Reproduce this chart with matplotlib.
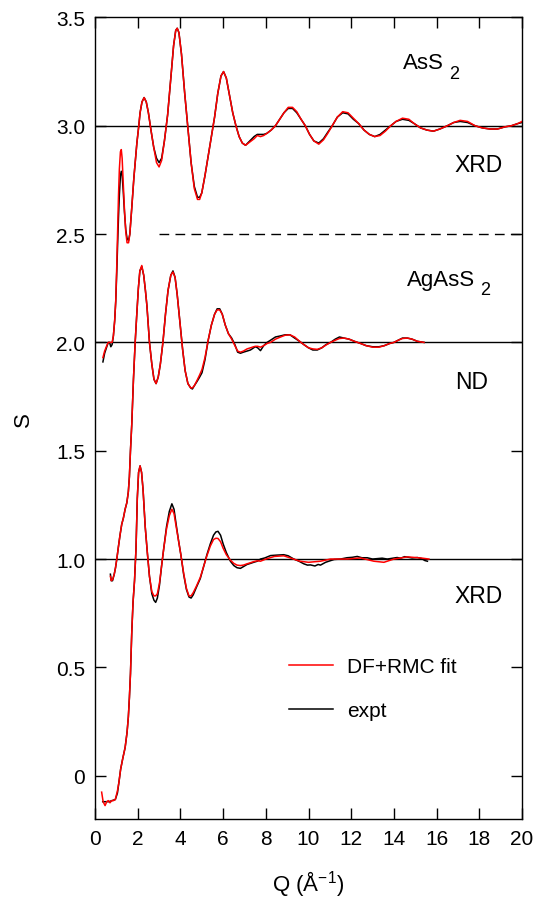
import matplotlib
matplotlib.use("Agg")
import matplotlib.pyplot as plt

plt.rcParams['font.family'] = ['Liberation Sans', 'DejaVu Sans']
plt.rcParams['mathtext.fontset'] = 'custom'
plt.rcParams['mathtext.rm'] = 'Liberation Sans'
plt.rcParams['mathtext.it'] = 'Liberation Sans:italic'

# AsS2, XRD (shifted up by 2)
q_ass2 = [0.37, 0.45, 0.55, 0.62, 0.68, 0.74, 0.80, 0.86, 0.92, 0.97,
          1.02, 1.06, 1.10, 1.14, 1.19, 1.23, 1.27, 1.32, 1.38, 1.44,
          1.50, 1.57, 1.63, 1.72, 1.82, 1.96, 2.05, 2.11, 2.20, 2.30,
          2.40, 2.50, 2.62, 2.75, 2.88, 3.00, 3.12, 3.25, 3.40, 3.55,
          3.68, 3.78, 3.85, 3.93, 4.05, 4.20, 4.35, 4.50, 4.65, 4.80,
          4.90, 5.00, 5.15, 5.30, 5.45, 5.60, 5.75, 5.90, 6.02, 6.15,
          6.30, 6.45, 6.60, 6.75, 6.90, 7.05, 7.25, 7.45, 7.60, 7.75,
          7.90, 8.05, 8.25, 8.45, 8.65, 8.85, 9.05, 9.25, 9.45, 9.65,
          9.85, 10.05, 10.25, 10.48, 10.70, 10.90, 11.11, 11.35, 11.60, 11.85,
          12.10, 12.35, 12.60, 12.85, 13.10, 13.35, 13.60, 13.85, 14.10, 14.40,
          14.70, 14.95, 15.25, 15.55, 15.85, 16.15, 16.50, 16.80, 17.10, 17.45,
          17.80, 18.15, 18.50, 18.85, 19.20, 19.50, 19.80, 20.00]
s_ass2_expt = [1.91, 1.95, 1.98, 2.00, 2.00, 1.98, 1.99, 2.03, 2.10, 2.19,
               2.33, 2.46, 2.58, 2.68, 2.77, 2.79, 2.77, 2.70, 2.60, 2.52,
               2.48, 2.47, 2.50, 2.62, 2.76, 2.92, 3.00, 3.06, 3.11, 3.13,
               3.11, 3.06, 2.98, 2.90, 2.85, 2.83, 2.85, 2.93, 3.05, 3.22,
               3.37, 3.44, 3.45, 3.43, 3.33, 3.15, 2.99, 2.83, 2.72, 2.67,
               2.67, 2.69, 2.77, 2.86, 2.95, 3.04, 3.15, 3.23, 3.25, 3.22,
               3.14, 3.06, 3.00, 2.95, 2.92, 2.91, 2.93, 2.95, 2.96, 2.96,
               2.96, 2.965, 2.98, 3.00, 3.03, 3.06, 3.08, 3.08, 3.06, 3.03,
               3.00, 2.96, 2.93, 2.92, 2.94, 2.97, 3.00, 3.04, 3.06, 3.055,
               3.03, 3.01, 2.98, 2.96, 2.95, 2.96, 2.98, 3.00, 3.02, 3.03,
               3.025, 3.01, 2.99, 2.98, 2.975, 2.985, 3.00, 3.015, 3.02, 3.015,
               3.00, 2.99, 2.985, 2.985, 2.995, 3.00, 3.01, 3.015]
s_ass2_fit = [1.93, 1.96, 1.985, 2.00, 2.00, 2.00, 2.00, 2.03, 2.10, 2.19,
              2.36, 2.52, 2.68, 2.80, 2.88, 2.89, 2.85, 2.74, 2.61, 2.51,
              2.46, 2.46, 2.50, 2.62, 2.76, 2.92, 3.00, 3.06, 3.11, 3.13,
              3.11, 3.06, 2.98, 2.90, 2.83, 2.81, 2.84, 2.93, 3.05, 3.22,
              3.37, 3.44, 3.45, 3.43, 3.33, 3.15, 2.99, 2.83, 2.71, 2.66,
              2.66, 2.69, 2.77, 2.86, 2.95, 3.04, 3.15, 3.23, 3.25, 3.22,
              3.14, 3.06, 3.00, 2.95, 2.92, 2.91, 2.925, 2.94, 2.955, 2.95,
              2.955, 2.965, 2.98, 3.00, 3.03, 3.06, 3.085, 3.085, 3.065, 3.03,
              3.00, 2.96, 2.93, 2.915, 2.935, 2.965, 3.00, 3.04, 3.065, 3.06,
              3.035, 3.01, 2.98, 2.96, 2.95, 2.955, 2.975, 3.00, 3.02, 3.035,
              3.03, 3.01, 2.99, 2.98, 2.975, 2.985, 3.00, 3.015, 3.025, 3.02,
              3.00, 2.99, 2.985, 2.985, 2.995, 3.00, 3.01, 3.02]

# AgAsS2, ND (shifted up by 1)
q_nd = [0.72, 0.76, 0.82, 0.90, 0.96, 1.02, 1.10, 1.17, 1.25, 1.33,
        1.41, 1.49, 1.56, 1.61, 1.66, 1.72, 1.80, 1.88, 1.95, 2.03,
        2.10, 2.19, 2.28, 2.36, 2.43, 2.55, 2.66, 2.76, 2.86, 2.96,
        3.06, 3.18, 3.30, 3.42, 3.55, 3.65, 3.75, 3.85, 3.97, 4.10,
        4.22, 4.35, 4.48, 4.56, 4.65, 4.78, 4.90, 5.01, 5.15, 5.30,
        5.45, 5.60, 5.72, 5.84, 5.96, 6.10, 6.25, 6.40, 6.55, 6.68,
        6.81, 6.95, 7.12, 7.28, 7.43, 7.51, 7.62, 7.75, 7.90, 8.06,
        8.22, 8.45, 8.69, 8.90, 9.13, 9.35, 9.58, 9.78, 10.00, 10.20,
        10.41, 10.62, 10.82, 11.03, 11.25, 11.45, 11.66, 11.90, 12.15, 12.44,
        12.70, 13.00, 13.30, 13.55, 13.80, 14.00, 14.20, 14.40, 14.63, 14.85,
        15.10, 15.41]
s_nd_expt = [0.93, 0.90, 0.90, 0.93, 0.96, 1.00, 1.06, 1.11, 1.16, 1.19,
             1.23, 1.26, 1.31, 1.38, 1.50, 1.62, 1.83, 2.00, 2.12, 2.25,
             2.33, 2.35, 2.31, 2.24, 2.17, 2.00, 1.90, 1.83, 1.81, 1.84,
             1.90, 2.00, 2.13, 2.24, 2.31, 2.33, 2.30, 2.22, 2.10, 1.97,
             1.87, 1.81, 1.79, 1.785, 1.80, 1.82, 1.84, 1.86, 1.92, 2.01,
             2.08, 2.13, 2.155, 2.155, 2.13, 2.08, 2.04, 2.02, 1.99, 1.955,
             1.95, 1.955, 1.96, 1.965, 1.975, 1.98, 1.975, 1.962, 1.985, 2.00,
             2.01, 2.025, 2.03, 2.035, 2.035, 2.02, 2.005, 1.99, 1.975, 1.965,
             1.965, 1.975, 1.99, 2.00, 2.015, 2.025, 2.02, 2.015, 2.005, 1.995,
             1.985, 1.98, 1.98, 1.985, 1.995, 2.00, 2.01, 2.02, 2.02, 2.015,
             2.005, 2.00]
s_nd_fit = [0.92, 0.90, 0.905, 0.93, 0.96, 1.00, 1.06, 1.11, 1.16, 1.19,
            1.23, 1.26, 1.31, 1.38, 1.50, 1.62, 1.83, 2.00, 2.12, 2.25,
            2.33, 2.355, 2.31, 2.24, 2.17, 2.00, 1.90, 1.83, 1.81, 1.84,
            1.90, 2.00, 2.13, 2.24, 2.31, 2.325, 2.30, 2.22, 2.10, 1.97,
            1.87, 1.81, 1.79, 1.79, 1.80, 1.825, 1.85, 1.875, 1.93, 2.01,
            2.08, 2.13, 2.15, 2.15, 2.13, 2.08, 2.04, 2.015, 1.985, 1.96,
            1.955, 1.96, 1.97, 1.975, 1.98, 1.982, 1.982, 1.978, 1.985, 1.995,
            2.00, 2.015, 2.025, 2.033, 2.035, 2.025, 2.005, 1.99, 1.975, 1.97,
            1.968, 1.975, 1.988, 2.00, 2.01, 2.018, 2.02, 2.015, 2.005, 1.995,
            1.985, 1.978, 1.978, 1.985, 1.995, 2.00, 2.01, 2.018, 2.02, 2.015,
            2.005, 2.00]

# AgAsS2, XRD (no shift)
q_xrd_expt = [0.36, 0.50, 0.65, 0.80, 0.95, 1.05, 1.12, 1.20, 1.30, 1.41,
              1.50, 1.56, 1.61, 1.66, 1.72, 1.78, 1.85, 1.92, 1.98, 2.04,
              2.11, 2.18, 2.25, 2.35, 2.45, 2.55, 2.66, 2.76, 2.84, 2.92,
              3.02, 3.12, 3.22, 3.35, 3.48, 3.60, 3.70, 3.80, 3.92, 4.02,
              4.15, 4.28, 4.40, 4.50, 4.60, 4.75, 4.93, 5.10, 5.24, 5.40,
              5.55, 5.66, 5.76, 5.88, 6.00, 6.15, 6.34, 6.50, 6.65, 6.81,
              6.95, 7.12, 7.28, 7.43, 7.60, 7.75, 7.95, 8.22, 8.50, 8.84,
              9.05, 9.31, 9.55, 9.78, 9.95, 10.09, 10.30, 10.45, 10.56, 10.80,
              10.95, 11.20, 11.50, 11.80, 12.05, 12.28, 12.50, 12.75, 13.00, 13.22,
              13.45, 13.69, 13.95, 14.15, 14.32, 14.50, 14.63, 14.85, 15.10, 15.30,
              15.45, 15.57]
s_xrd_expt = [-0.12, -0.12, -0.12, -0.115, -0.11, -0.08, -0.03, 0.03, 0.08, 0.13,
              0.20, 0.27, 0.36, 0.47, 0.66, 0.80, 0.90, 1.05, 1.28, 1.40,
              1.43, 1.40, 1.32, 1.15, 1.03, 0.92, 0.84, 0.81, 0.80, 0.82,
              0.88, 0.97, 1.05, 1.15, 1.22, 1.255, 1.23, 1.16, 1.08, 1.02,
              0.93, 0.86, 0.825, 0.82, 0.835, 0.87, 0.91, 0.97, 1.02, 1.07,
              1.11, 1.125, 1.128, 1.11, 1.07, 1.03, 0.99, 0.97, 0.96, 0.957,
              0.965, 0.975, 0.98, 0.985, 0.99, 1.00, 1.005, 1.016, 1.018, 1.02,
              1.015, 1.00, 0.99, 0.978, 0.972, 0.973, 0.968, 0.975, 0.972, 0.985,
              0.99, 0.998, 1.0, 1.006, 1.008, 1.012, 1.006, 1.006, 1.0, 1.002,
              1.004, 1.0, 1.004, 1.007, 1.004, 1.011, 1.009, 1.005, 1.007, 1.002,
              0.993, 0.99]
q_xrd_fit = [0.31, 0.38, 0.47, 0.55, 0.62, 0.70, 0.78, 0.86, 0.95, 1.05,
             1.12, 1.20, 1.30, 1.41, 1.50, 1.56, 1.61, 1.66, 1.72, 1.78,
             1.85, 1.92, 1.98, 2.04, 2.11, 2.18, 2.25, 2.35, 2.45, 2.55,
             2.66, 2.76, 2.84, 2.92, 3.02, 3.12, 3.22, 3.35, 3.48, 3.60,
             3.70, 3.80, 3.92, 4.02, 4.15, 4.28, 4.40, 4.50, 4.60, 4.75,
             4.93, 5.10, 5.24, 5.40, 5.55, 5.66, 5.76, 5.88, 6.00, 6.15,
             6.34, 6.50, 6.65, 6.81, 6.95, 7.12, 7.28, 7.43, 7.60, 7.75,
             8.00, 8.40, 8.84, 9.30, 9.60, 10.00, 10.56, 11.03, 11.80, 12.44,
             13.06, 13.53, 14.00, 14.63, 15.26, 15.64]
s_xrd_fit = [-0.076, -0.12, -0.138, -0.12, -0.115, -0.125, -0.115, -0.115, -0.11, -0.07,
             -0.03, 0.03, 0.08, 0.13, 0.20, 0.27, 0.36, 0.47, 0.66, 0.80,
             0.90, 1.05, 1.28, 1.40, 1.43, 1.40, 1.32, 1.15, 1.03, 0.92,
             0.85, 0.83, 0.83, 0.84, 0.89, 0.97, 1.05, 1.14, 1.20, 1.23,
             1.21, 1.15, 1.08, 1.02, 0.935, 0.865, 0.83, 0.83, 0.845, 0.875,
             0.915, 0.97, 1.015, 1.06, 1.09, 1.096, 1.095, 1.08, 1.05, 1.02,
             0.995, 0.98, 0.972, 0.97, 0.972, 0.978, 0.983, 0.988, 0.992, 0.99,
             1.0, 1.012, 1.015, 1.0, 0.99, 0.985, 0.99, 1.0, 1.0, 1.005,
             0.99, 0.985, 1.0, 1.01, 1.005, 1.0]

baselines = [1.0, 2.0, 3.0]
sep_q = [3.0, 20.0]
sep_s = [2.5, 2.5]

xticks = list(range(0, 21, 2))
yticks = [0, 0.5, 1.0, 1.5, 2.0, 2.5, 3.0, 3.5]
ytick_labels = ['0', '0.5', '1.0', '1.5', '2.0', '2.5', '3.0', '3.5']

fig = plt.figure(figsize=(5.39, 9.04), dpi=100)
ax = fig.add_axes([0.1763, 0.0929, 0.7922, 0.8867])

for b in baselines:
    ax.axhline(b, color='black', lw=1.0, zorder=1)
ax.plot(sep_q, sep_s, color='black', lw=1.0, dashes=(7, 4.5), zorder=1)

ax.plot(q_ass2, s_ass2_expt, color='black', lw=1.1, zorder=2)
ax.plot(q_nd, s_nd_expt, color='black', lw=1.1, zorder=2)
l_expt, = ax.plot(q_xrd_expt, s_xrd_expt, color='black', lw=1.1, zorder=2)
ax.plot(q_ass2, s_ass2_fit, color='#ff0000', lw=1.1, zorder=3)
ax.plot(q_nd, s_nd_fit, color='#ff0000', lw=1.1, zorder=3)
l_fit, = ax.plot(q_xrd_fit, s_xrd_fit, color='#ff0000', lw=1.1, zorder=3)

ax.set_xlim(0, 20)
ax.set_ylim(-0.2, 3.5)
ax.set_xticks(xticks)
ax.set_yticks(yticks)
ax.set_yticklabels(ytick_labels)
ax.tick_params(direction='in', length=8, width=1.0, top=True, right=True,
               labelsize=15, pad=7)
for sp in ax.spines.values():
    sp.set_linewidth(1.0)

ax.set_xlabel('Q (Å$^{-1}$)', fontsize=16, labelpad=15)
ax.set_ylabel('S', fontsize=16, labelpad=16)

# sample labels, subscript drawn as its own lowered text
t1 = ax.text(14.43, 3.29, 'AsS', fontsize=16, va='center')
ax.annotate('2', xy=(1, 0), xycoords=t1, xytext=(4, -6),
            textcoords='offset points', fontsize=13, va='bottom')
ax.text(16.86, 2.82, 'XRD', fontsize=16.5, va='center')
t2 = ax.text(14.6, 2.29, 'AgAsS', fontsize=16, va='center')
ax.annotate('2', xy=(1, 0), xycoords=t2, xytext=(4, -6),
            textcoords='offset points', fontsize=13, va='bottom')
ax.text(16.86, 1.82, 'ND', fontsize=16.5, va='center')
ax.text(16.86, 0.83, 'XRD', fontsize=16.5, va='center')

ax.legend([l_fit, l_expt], ['DF+RMC fit', 'expt'], loc='upper left',
          bbox_to_anchor=(0.43, 0.215), frameon=False, fontsize=15,
          handlelength=2.1, handletextpad=0.7, labelspacing=1.2, borderpad=0)

fig.savefig('out.png', dpi=100)
